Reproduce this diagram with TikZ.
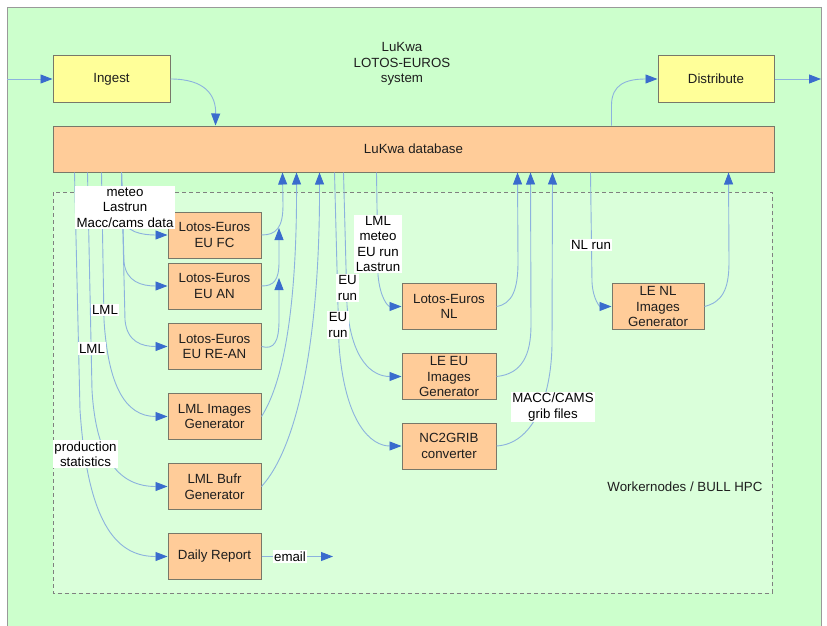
\documentclass[tikz,border=0pt]{standalone}
\usepackage{fontspec}
\setmainfont{Liberation Sans}
\usetikzlibrary{arrows.meta,calc}
\definecolor{outergreen}{RGB}{204,255,204}
\definecolor{innergreen}{RGB}{218,255,218}
\definecolor{boxorange}{RGB}{255,204,153}
\definecolor{boxyellow}{RGB}{255,255,153}
\definecolor{boxborder}{RGB}{120,120,105}
\definecolor{linkblue}{RGB}{140,178,222}
\definecolor{tipblue}{RGB}{58,108,205}
\definecolor{txt}{RGB}{30,30,30}
\begin{document}
\begin{tikzpicture}[x=1pt,y=1pt,font=\fontsize{13.3}{15.5}\selectfont,
 proc/.style={draw=boxborder,line width=1pt,fill=boxorange,minimum width=93pt,minimum height=46pt,align=center,inner sep=1pt,text=txt},
 io/.style={proc,fill=boxyellow,minimum width=117pt},
 link/.style={draw=linkblue,line width=0.9pt,-{Triangle[length=12pt,width=9pt,color=tipblue,fill=tipblue]}},
 lbl/.style={fill=white,inner sep=1.5pt,align=center,text=black}]
\useasboundingbox (0,0) rectangle (827,-626);
\fill[white] (0,0) rectangle (827,-626);
\draw[fill=outergreen,draw=gray!80,line width=1pt] (7,-8) rectangle (821,-640);
\draw[fill=innergreen,draw=gray,line width=0.9pt,dash pattern=on 4pt off 3pt] (53,-192) rectangle (772,-593);

\node[align=center,text=txt] (title) at (402,-64) {LuKwa\\LOTOS-EUROS\\system};
\node[anchor=east,text=txt] (wn) at (766,-487) {Workernodes / BULL HPC};

% boxes
\node[io] (ingest) at (111.5,-79) {Ingest};
\node[io,minimum width=116pt] (dist) at (716,-79) {Distribute};
\node[proc,minimum width=721pt] (db) at (413.5,-149) {LuKwa database};
\node[proc] (fc) at (214.5,-235) {Lotos-Euros\\EU FC};
\node[proc] (an) at (214.5,-286) {Lotos-Euros\\EU AN};
\node[proc] (rean) at (214.5,-346.5) {Lotos-Euros\\EU RE-AN};
\node[proc] (lmlimg) at (214.5,-416.5) {LML Images\\Generator};
\node[proc] (lmlbufr) at (214.5,-486.5) {LML Bufr\\Generator};
\node[proc] (daily) at (214.5,-556.5) {Daily Report};
\node[proc,minimum width=94pt] (nl) at (449,-306.5) {Lotos-Euros\\NL};
\node[proc,minimum width=94pt] (leeu) at (449,-376.5) {LE EU\\Images\\Generator};
\node[proc,minimum width=94pt] (nc2) at (449,-446) {NC2GRIB\\converter};
\node[proc,minimum width=92pt] (lenl) at (658,-306.5) {LE NL\\Images\\Generator};

% in / out
\coordinate (inlet) at (7,-79);
\coordinate (outlet) at (821,-79);
\draw[link] (inlet) -- (ingest);
\draw[link] (dist) -- (outlet);
\draw[link] (ingest.east) .. controls (205,-79) and (216,-95) .. ([xshift=163]db.north west);
\draw[link] ([xshift=559]db.north west) -- ++(0,21) .. controls (612,-85) and (625,-79) .. (dist.west);

% left fan
\draw[link] ([xshift=69]db.south west) -- (123,-218) .. controls (125,-232) and (142,-235) .. (fc.west);
\draw[link] ([xshift=69]db.south west) -- (124,-262) .. controls (126,-282) and (142,-286) .. (an.west);
\draw[link] ([xshift=69]db.south west) -- (125,-320) .. controls (127,-342) and (142,-346.5) .. (rean.west);
\draw[link] ([xshift=49]db.south west) -- (104,-320) .. controls (108,-385) and (125,-416.5) .. (lmlimg.west);
\draw[link] ([xshift=35]db.south west) -- (92,-390) .. controls (96,-460) and (120,-486.5) .. (lmlbufr.west);
\draw[link] ([xshift=22]db.south west) -- (80,-410) .. controls (88,-530) and (120,-556.5) .. (daily.west);

% left column outputs
\coordinate (anend) at (279,-228);
\coordinate (reanend) at (279,-278);
\coordinate (mailend) at (333,-556.5);
\draw[link] (fc.east) .. controls (276,-235) and (283,-228) .. (283,-205) -- ([xshift=230]db.south west);
\draw[link] (an.east) .. controls (274,-286) and (279,-280) .. (279,-262) -- (anend);
\draw[link] (rean.east) .. controls (274,-350) and (279,-342) .. (279,-320) -- (reanend);
\draw[link] (lmlimg.east) .. controls (285,-380) and (297,-300) .. ([xshift=244]db.south west);
\draw[link] (lmlbufr.east) .. controls (295,-450) and (320,-350) .. ([xshift=267]db.south west);
\draw[link] (daily.east) -- (mailend);

% middle
\draw[link] ([xshift=324]db.south west) -- (378,-275) .. controls (380,-298) and (388,-306.5) .. (nl.west);
\draw[link] ([xshift=291]db.south west) -- (347,-305) .. controls (351,-360) and (372,-376.5) .. (leeu.west);
\draw[link] ([xshift=282]db.south west) -- (339,-345) .. controls (345,-425) and (372,-446) .. (nc2.west);
\draw[link] (nl.east) .. controls (512,-304) and (518,-290) .. (518,-262) -- ([xshift=465]db.south west);
\draw[link] (leeu.east) .. controls (522,-374) and (531,-355) .. (531,-325) -- ([xshift=478]db.south west);
\draw[link] (nc2.east) .. controls (532,-444) and (551,-400) .. (552,-345) -- ([xshift=500]db.south west);
\draw[link] ([xshift=538]db.south west) -- (592,-282) .. controls (593,-300) and (600,-306.5) .. (lenl.west);
\draw[link] (lenl.east) .. controls (722,-302) and (729,-290) .. (729,-262) -- ([xshift=676]db.south west);

% labels
\node[lbl] (l1) at (125,-207.5) {meteo\\Lastrun\\Macc/cams data};
\node[lbl] (l2) at (105,-310) {LML};
\node[lbl] (l3) at (92,-348.5) {LML};
\node[lbl] (l4) at (85.5,-454) {production\\statistics};
\node[lbl] (l5) at (290,-556.5) {email};
\node[lbl] (l6) at (378,-244) {LML\\meteo\\EU run\\Lastrun};
\node[lbl] (l7) at (347.5,-288) {EU\\run};
\node[lbl] (l8) at (338,-325) {EU\\run};
\node[lbl] (l9) at (591,-245) {NL run};
\node[lbl] (l10) at (553,-407) {MACC/CAMS\\grib files};
\end{tikzpicture}
\end{document}
